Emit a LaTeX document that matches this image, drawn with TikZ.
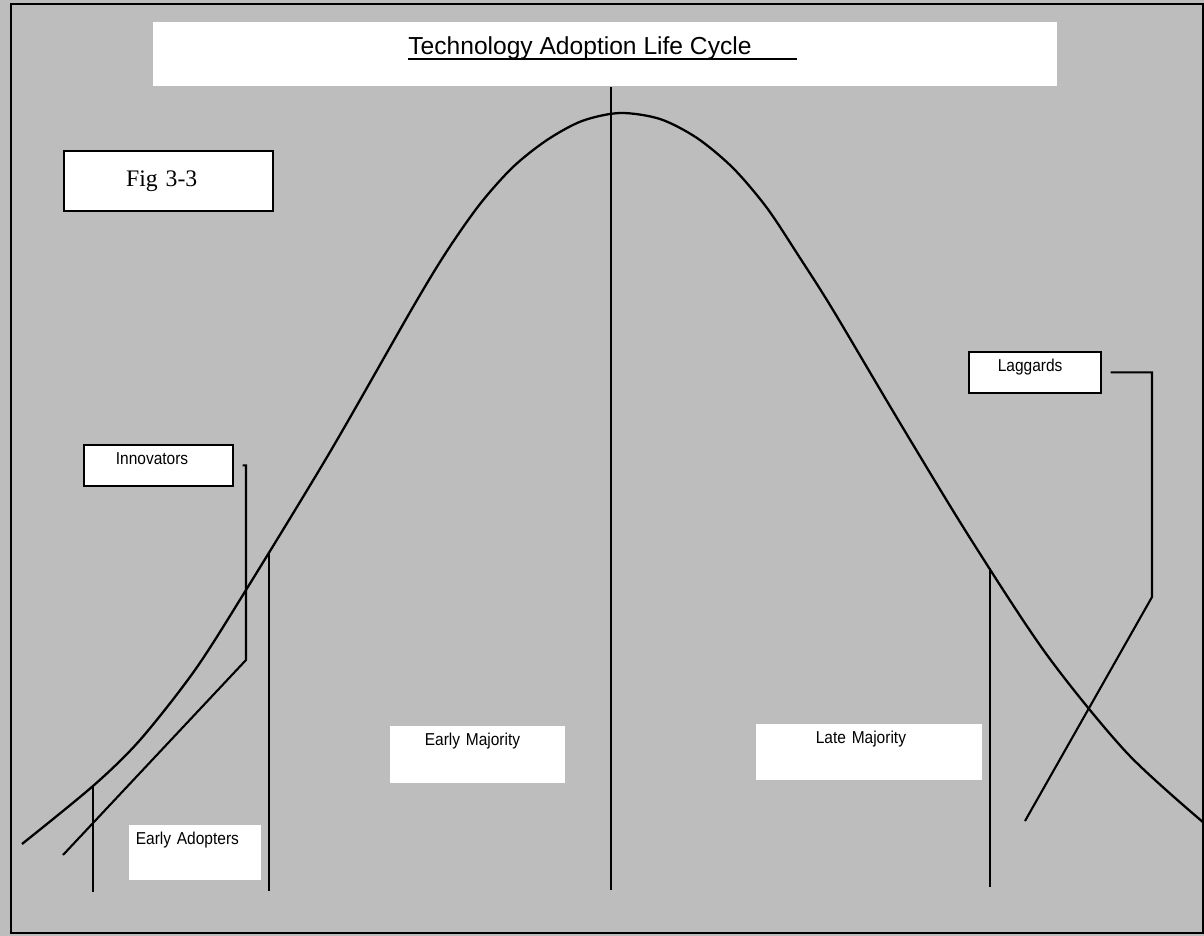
\documentclass[tikz,border=0pt]{standalone}
\usepackage{fontspec}
\usepackage{tikz}
\usetikzlibrary{positioning}
\newfontfamily\headfont{Liberation Sans}
\newfontfamily\tagfont[FakeStretch=0.9]{Liberation Sans}
\newfontfamily\figfont{Liberation Serif}
\definecolor{paper}{gray}{0.74}

\begin{document}
\begin{tikzpicture}[x=0.02cm, y=-0.02cm,
	tag/.style={fill=white, draw=black, line width=1pt, anchor=north west, align=left, inner ysep=4pt, text height=7pt, font=\tagfont\fontsize{9.8}{11}\selectfont},
	plain tag/.style={tag, draw=none},
	divider/.style={line width=1pt},
	link/.style={line width=1.2pt, line join=miter}]
	%%%% page
	\useasboundingbox (0,0) rectangle (1204,936);
	\fill[paper] (0,0) rectangle (1204,936);
	\draw[line width=1.2pt] (11,4) rectangle (1203,933);

	%%%% heading
	\node[fill=white, inner sep=0pt, minimum width=18.08cm, minimum height=1.28cm, anchor=north west] (titlebox) at (153,22) {};
	\node[anchor=base west, inner sep=0pt, font=\headfont\fontsize{14}{16}\selectfont] (ttl) at (408,55) {Technology Adoption Life Cycle};
	\draw[line width=1pt] ([yshift=-2.3pt]ttl.base west) -- ++(389,0);

	\node[draw, fill=white, line width=1.3pt, anchor=north west, align=left, inner xsep=1.24cm, text width=1.7cm, minimum height=1.2cm, font=\figfont\fontsize{13.5}{15}\selectfont] (fig) at (63,150) {Fig 3-3};
	%%%%%%

	%%%% bell curve
	\draw[line width=1.3pt] plot[smooth] coordinates {(22,844) (93,786) (140,740) (195,670) (246,590) (330,452) (413,307) (447,251) (480,204) (513,167) (547,140) (582,121) (620,113) (660,119) (697,138) (733,168) (767,208) (800,258) (833,310) (900,423) (970,538) (1047,655) (1127,753) (1204,823)};

	\draw[divider] (93,786) -- (93,892);
	\draw[divider] (269,552) -- (269,891);
	\draw[divider] (611,87) -- (611,890);
	\draw[divider] (990,568) -- (990,887);
	%%%%%%

	%%%% segments
	\node[tag, inner xsep=0.64cm, text width=1.70cm, text depth=8.3pt] (inn) at (83,444) {Innovators};
	\node[plain tag, inner xsep=0.14cm, text width=2.36cm, text depth=16.3pt] (early) at (128,824) {Early Adopters};
	\node[plain tag, inner xsep=0.7cm, text width=2.1cm, text depth=17.4pt] (earlymaj) at (389,725) {Early Majority};
	\node[plain tag, inner xsep=1.2cm, text width=2.12cm, text depth=16.8pt] (latemaj) at (755,723) {Late Majority};
	\node[tag, inner xsep=0.58cm, text width=1.48cm, text depth=8.3pt] (lag) at (968,351) {Laggards};

	\coordinate (innbend) at (246,660);
	\coordinate (innend) at (63,855);
	\draw[link, shorten <=5pt] (inn.east) -- (inn.east -| innbend) -- (innbend) -- (innend);

	\coordinate (lagbend) at (1152,597);
	\coordinate (lagend) at (1025,821);
	\draw[link, shorten <=5pt] (lag.east) -- (lag.east -| lagbend) -- (lagbend) -- (lagend);
	%%%%%%
\end{tikzpicture}
\end{document}
